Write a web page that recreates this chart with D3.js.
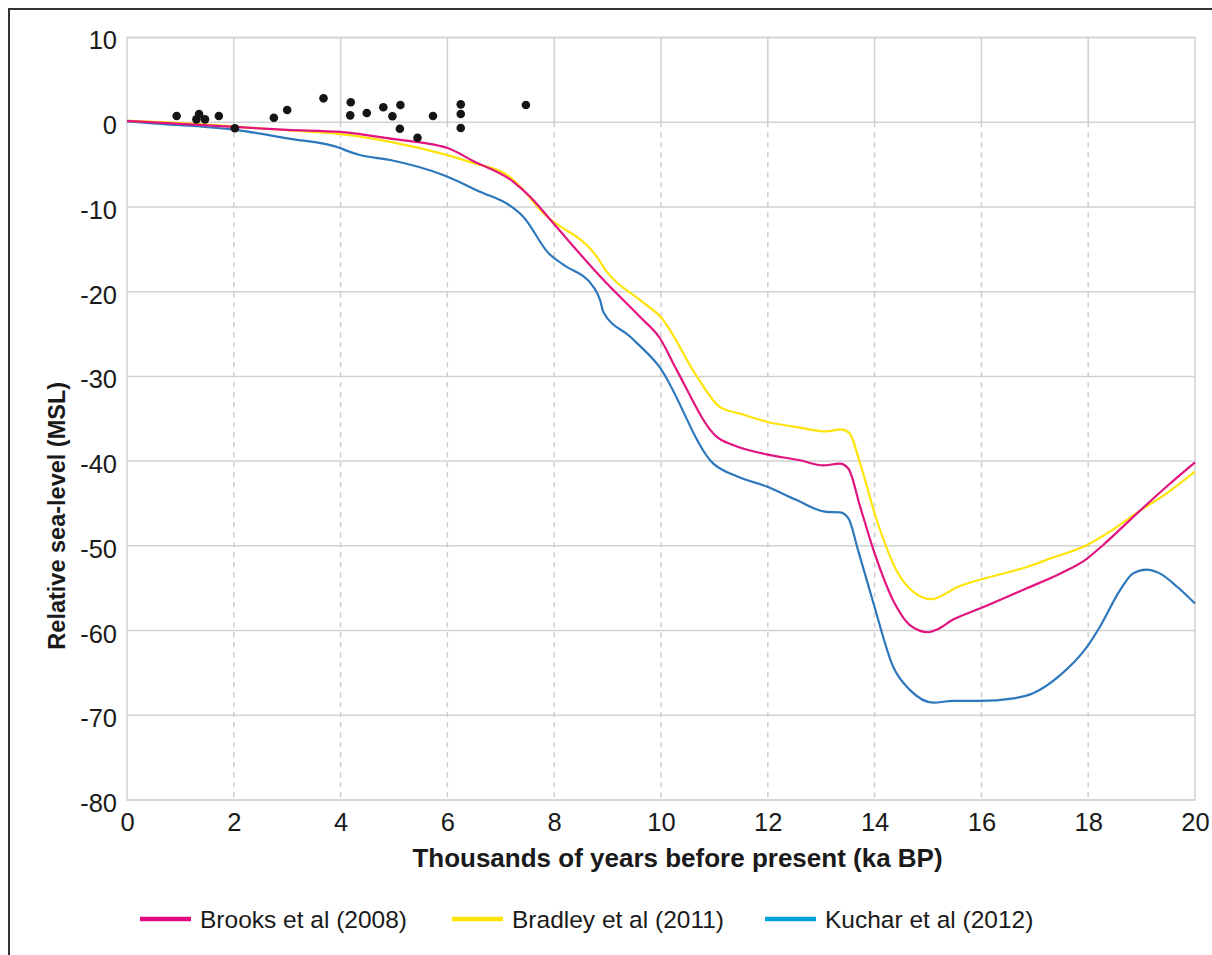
<!DOCTYPE html>
<html>
<head>
<meta charset="utf-8">
<script src="https://cdn.jsdelivr.net/npm/d3@7"></script>
<style>
  html, body { margin: 0; padding: 0; background: #fff; }
  svg { display: block; font-family: "Liberation Sans", Arial, sans-serif; }
</style>
</head>
<body>
<svg id="chart" width="1212" height="955"></svg>
<script>
// Relative sea-level reconstructions, ka BP vs metres relative to MSL
const xTicks = [0, 2, 4, 6, 8, 10, 12, 14, 16, 18, 20];
const yTicks = [10, 0, -10, -20, -30, -40, -50, -60, -70, -80];

const brooksKa  = [0, 1, 2, 3, 4, 5, 5.86, 6.0, 6.49, 7.23, 7.55, 7.98, 8.92, 9.61, 9.98, 10.29, 11.04, 11.35, 11.98, 12.6, 13.04, 13.35, 13.51, 13.73, 13.98, 14.41, 14.66, 15.01, 15.16, 15.47, 15.97, 16.85, 17.47, 17.98, 18.28, 18.91, 19.47, 20];
const brooksRsl = [0.15, -0.2, -0.55, -0.9, -1.15, -2.0, -2.8, -3.05, -4.6, -7.0, -8.8, -11.9, -18.6, -23.0, -25.5, -29.2, -37.1, -38.1, -39.2, -39.9, -40.5, -40.3, -40.9, -45.4, -50.5, -57.2, -59.35, -60.2, -59.9, -58.7, -57.4, -55.0, -53.3, -51.5, -49.9, -46.2, -43.0, -40.15];

const bradleyKa  = [0, 1, 2, 3, 4, 5, 5.86, 6.48, 7.11, 7.3, 7.8, 8.8, 8.98, 9.61, 10.01, 10.67, 11.1, 11.48, 11.98, 12.6, 13.1, 13.37, 13.53, 13.73, 14.04, 14.41, 14.72, 15.07, 15.22, 15.54, 16.0, 16.85, 17.29, 17.98, 18.41, 18.91, 19.47, 20];
const bradleyRsl = [0.15, -0.1, -0.5, -0.95, -1.4, -2.4, -3.65, -4.8, -6.2, -7.2, -10.75, -15.9, -17.6, -21.0, -23.1, -30.0, -33.6, -34.4, -35.35, -36.05, -36.5, -36.25, -36.7, -40.3, -46.95, -52.9, -55.4, -56.3, -56.0, -54.9, -53.95, -52.5, -51.5, -49.9, -48.3, -46.1, -43.8, -41.25];

const kucharKa  = [0, 0.62, 1, 2.02, 3, 3.99, 4.11, 4.36, 4.93, 5.92, 6.61, 7.2, 7.42, 7.9, 8.17, 8.73, 8.86, 8.92, 9.42, 9.95, 10.98, 11.42, 11.98, 12.54, 13.1, 13.35, 13.51, 13.69, 13.98, 14.35, 14.66, 15.1, 15.47, 15.97, 16.6, 16.97, 17.47, 17.98, 18.22, 18.6, 18.84, 19.09, 19.34, 19.66, 20];
const kucharRsl = [0.1, -0.2, -0.35, -0.9, -1.9, -3.05, -3.35, -3.87, -4.46, -6.23, -8.2, -9.97, -11.15, -15.5, -16.8, -19.4, -21.0, -22.4, -25.3, -28.7, -40.3, -41.8, -43.0, -44.6, -46.0, -46.05, -46.75, -50.5, -56.8, -64.3, -67.0, -68.5, -68.3, -68.3, -68.0, -67.4, -65.3, -61.9, -59.55, -55.2, -53.25, -52.8, -53.25, -54.8, -56.8];

// Sea-level index points
const indexKa  = [0.93, 1.30, 1.35, 1.46, 1.72, 2.02, 2.75, 3.0, 3.68, 4.19, 4.18, 4.49, 4.80, 4.97, 5.12, 5.11, 5.44, 5.73, 6.25, 6.25, 6.25, 7.47];
const indexRsl = [0.73, 0.34, 0.97, 0.34, 0.73, -0.72, 0.53, 1.44, 2.82, 2.35, 0.81, 1.09, 1.76, 0.70, 2.03, -0.77, -1.83, 0.73, 2.11, 0.97, -0.68, 2.03];

const seriesNames = ["Brooks et al (2008)", "Bradley et al (2011)", "Kuchar et al (2012)"];

const svg = d3.select("#chart");

// Outer frame
svg.append("rect")
  .attr("x", 9).attr("y", 9).attr("width", 1300).attr("height", 1000)
  .attr("fill", "none").attr("stroke", "#333").attr("stroke-width", 2);

const x = d3.scaleLinear().domain([0, 20]).range([127, 1195]);
const y = d3.scaleLinear().domain([-80, 10]).range([800, 37.5]);

const grid = svg.append("g");
// Horizontal gridlines
grid.selectAll("line.h").data(yTicks).join("line")
  .attr("x1", x(0)).attr("x2", x(20))
  .attr("y1", d => y(d)).attr("y2", d => y(d))
  .attr("stroke", "#d2d2d2").attr("stroke-width", 1.5);
// Vertical gridlines: solid above zero, dashed below
const inner = xTicks.filter(d => d > 0 && d < 20);
grid.selectAll("line.vs").data(inner).join("line")
  .attr("x1", d => x(d)).attr("x2", d => x(d))
  .attr("y1", y(10)).attr("y2", y(0))
  .attr("stroke", "#d2d2d2").attr("stroke-width", 1.5);
grid.selectAll("line.vd").data(inner).join("line")
  .attr("x1", d => x(d)).attr("x2", d => x(d))
  .attr("y1", y(0)).attr("y2", y(-80))
  .attr("stroke", "#cccccc").attr("stroke-width", 1.5)
  .attr("stroke-dasharray", "5,5");
// Plot frame
grid.append("rect")
  .attr("x", x(0)).attr("y", y(10))
  .attr("width", x(20) - x(0)).attr("height", y(-80) - y(10))
  .attr("fill", "none").attr("stroke", "#d2d2d2").attr("stroke-width", 1.5);

// Axes (plain hyphen-minus in labels)
const plain = d => String(d);
const xAxis = svg.append("g")
  .attr("transform", `translate(0,${y(-80)})`)
  .call(d3.axisBottom(x).tickValues(xTicks).tickSize(0).tickPadding(13).tickFormat(plain));
const yAxis = svg.append("g")
  .attr("transform", `translate(${x(0)},0)`)
  .call(d3.axisLeft(y).tickValues(yTicks).tickSize(0).tickPadding(10).tickFormat(plain));
[xAxis, yAxis].forEach(a => {
  a.select(".domain").remove();
  a.selectAll("text").attr("font-family", "Liberation Sans, Arial, sans-serif")
    .attr("font-size", 25.5).attr("fill", "#1a1a1a");
});
yAxis.selectAll("text").attr("dy", "0.45em");

// Axis titles
svg.append("text")
  .attr("x", 677.5).attr("y", 867)
  .attr("text-anchor", "middle").attr("font-weight", "bold").attr("font-size", 26)
  .attr("fill", "#1a1a1a")
  .text("Thousands of years before present (ka BP)");
svg.append("text")
  .attr("transform", `translate(65,${(y(10) + y(-80)) / 2 + 97}) rotate(-90)`)
  .attr("text-anchor", "middle").attr("font-weight", "bold").attr("font-size", 23.5)
  .attr("fill", "#1a1a1a")
  .text("Relative sea-level (MSL)");

// Curves
const line = d3.line().x(d => x(d[0])).y(d => y(d[1])).curve(d3.curveMonotoneX);
const series = [
  { ka: kucharKa,  rsl: kucharRsl,  color: "#2d77bd" },
  { ka: bradleyKa, rsl: bradleyRsl, color: "#ffe30a" },
  { ka: brooksKa,  rsl: brooksRsl,  color: "#e2147f" }
];
svg.append("g").selectAll("path").data(series).join("path")
  .attr("d", s => line(s.ka.map((k, i) => [k, s.rsl[i]])))
  .attr("fill", "none")
  .attr("stroke", s => s.color)
  .attr("stroke-width", 2.2)
  .attr("stroke-linejoin", "round");

// Index points
svg.append("g").selectAll("circle").data(indexKa.map((k, i) => [k, indexRsl[i]])).join("circle")
  .attr("cx", d => x(d[0])).attr("cy", d => y(d[1])).attr("r", 4.3)
  .attr("fill", "#151515");

// Legend
const legendColors = ["#e5097f", "#ffe500", "#00a0da"];
const legendX = [140, 452, 765];
const legend = svg.append("g").selectAll("g").data(seriesNames).join("g")
  .attr("transform", (d, i) => `translate(${legendX[i]},919)`);
legend.append("line")
  .attr("x1", 0).attr("x2", 51).attr("y1", 0).attr("y2", 0)
  .attr("stroke", (d, i) => legendColors[i]).attr("stroke-width", 4.5);
legend.append("text")
  .attr("x", 60).attr("y", 8.5)
  .attr("font-size", 24.5).attr("fill", "#1a1a1a")
  .text(d => d);
</script>
</body>
</html>
